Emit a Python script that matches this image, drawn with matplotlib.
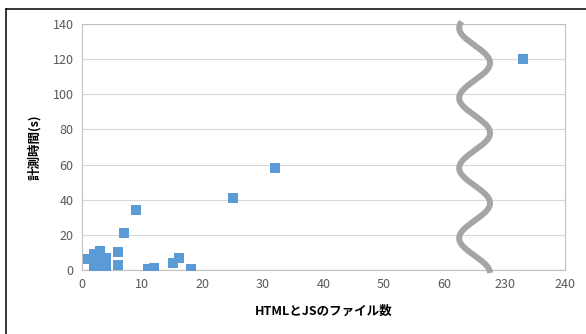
import numpy as np
import matplotlib
matplotlib.use('Agg')
import matplotlib.pyplot as plt
from matplotlib.lines import Line2D

plt.rcParams['font.family'] = ['Noto Sans CJK JP', 'DejaVu Sans']

# file count vs measured time
file_count = [1, 2, 2, 2.5, 3, 3, 3.5, 4, 4, 4, 2, 3, 6, 6, 7, 9, 11, 12, 15, 16, 18, 25, 32, 233]
seconds = [6, 9, 2, 4, 11, 7, 3, 7, 4, 0.5, 5, 1.5, 10.5, 3, 21, 34, 0.5, 1, 4, 7, 0.5, 41, 58, 120]

x_ticks = [0, 10, 20, 30, 40, 50, 60, 230, 240]
y_ticks = [0, 20, 40, 60, 80, 100, 120, 140]

# broken axis: values above 70 are shifted left by 160
break_at = 70
shift = 160

def squash(v):
    return v if v <= break_at else v - shift

fig = plt.figure(figsize=(5.86, 3.34), dpi=100)
ax = fig.add_axes([0.140, 0.1916, 0.824, 0.7364])

xs = [squash(v) for v in file_count]
ax.scatter(xs, seconds, marker='s', s=48, color='#5b9bd5', zorder=3, linewidths=0)

ax.set_xlim(0, 80)
ax.set_ylim(0, 140)
ax.set_xticks([squash(v) for v in x_ticks])
ax.set_xticklabels([str(v) for v in x_ticks])
ax.set_yticks(y_ticks)
ax.tick_params(length=0, labelsize=9, labelcolor='#595959', pad=6)
ax.grid(axis='y', color='#d9d9d9', linewidth=0.8)
ax.set_axisbelow(True)
for sp in ax.spines.values():
    sp.set_color('#bfbfbf')
    sp.set_linewidth(0.8)

ax.set_xlabel('HTMLとJSのファイル数', fontsize=9, fontweight='bold', labelpad=10)
ax.set_ylabel('計測時間(s)', fontsize=9, fontweight='bold', labelpad=8)

# wavy break marker
wy = np.linspace(-0.012, 1.01, 300)
wx = 0.813 + 0.032 * np.cos(2 * np.pi * (wy - 0.557) / 0.285)
ax.plot(wx, wy, transform=ax.transAxes, color='#a5a5a5', linewidth=4.3,
        clip_on=False, zorder=4, solid_capstyle='butt')

# outer chart frame (top and left edges visible)
fig.add_artist(Line2D([0.011, 1.0], [0.9716, 0.9716], color='black', linewidth=1.1))
fig.add_artist(Line2D([0.011, 0.011], [0.0, 0.9716], color='black', linewidth=1.1))

fig.savefig('out.png', dpi=100)
